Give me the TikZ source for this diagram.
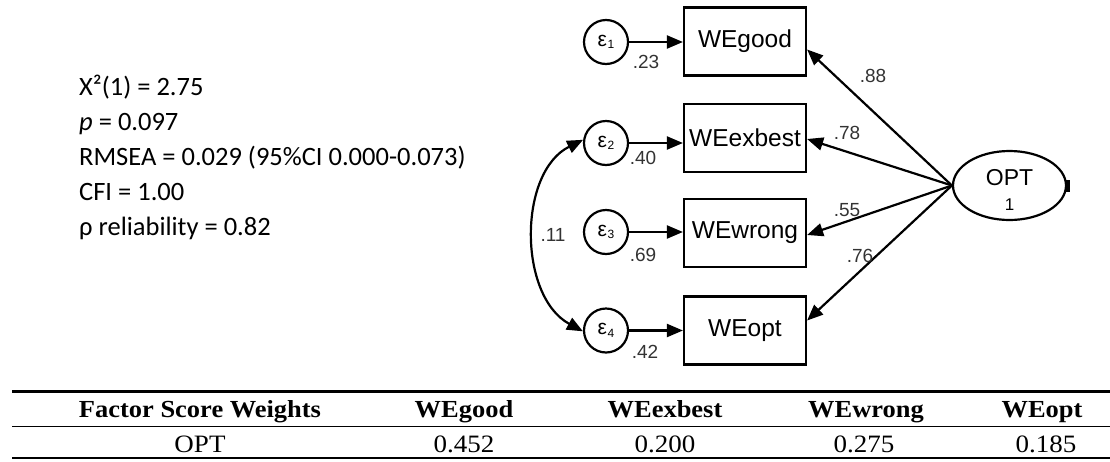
\documentclass[tikz,border=0pt]{standalone}
\usepackage{fontspec}
\setmainfont{Liberation Sans}
\newfontfamily\statfont{Carlito}
\newfontfamily\tabfont[FakeStretch=1.08]{Liberation Serif}
\usetikzlibrary{arrows.meta,shapes.geometric}

\newcommand{\epsub}[1]{ε\kern0.5pt\raisebox{-2.5pt}{\fontsize{12}{12}\selectfont #1}}

\begin{document}
\begin{tikzpicture}[x=1pt,y=-1pt,
  obs/.style={draw, line width=2.2pt, minimum width=122pt, minimum height=68pt,
              inner sep=0, font=\fontsize{24.5}{28}\selectfont},
  err/.style={circle, draw, line width=2.2pt, minimum size=44pt, inner sep=0,
              font=\fontsize{21}{22}\selectfont},
  lat/.style={ellipse, draw, line width=2.2pt, minimum width=113pt,
              minimum height=69pt, inner sep=0},
  link/.style={line width=2.2pt, -{Triangle[length=16pt,width=13pt]}},
  cov/.style={line width=2.2pt, {Triangle[length=16pt,width=13pt]}-{Triangle[length=16pt,width=13pt]}},
  coef/.style={font=\fontsize{19}{20}\selectfont, text=black!80, inner sep=0},
  stat/.style={font=\statfont\fontsize{26.5}{30}\selectfont, anchor=base west, inner sep=0},
  th/.style={font=\tabfont\bfseries\fontsize{24.5}{28}\selectfont, anchor=base, inner sep=0},
  td/.style={font=\tabfont\fontsize{25}{28}\selectfont, anchor=base, inner sep=0},
]
\useasboundingbox (0,0) rectangle (1110,461);

% fit statistics
\node[stat] (s1) at (79,95)  {X²(1) = 2.75};
\node[stat] (s2) at (79,130) {\itshape p\upshape{} = 0.097};
\node[stat] (s3) at (79,165) {RMSEA = 0.029 (95\%CI 0.000-0.073)};
\node[stat] (s4) at (79,200) {CFI = 1.00};
\node[stat] (s5) at (79,235) {ρ reliability = 0.82};

% indicators
\node[obs] (good)   at (745,41.5) {WEgood};
\node[obs] (exbest) at (745,138)  {WEexbest};
\node[obs] (wrong)  at (745,233)  {WEwrong};
\node[obs] (opt)    at (745,330.5){WEopt};

% error terms
\node[err] (e1) at (606,42)  {\epsub{1}};
\node[err] (e2) at (606,143) {\epsub{2}};
\node[err] (e3) at (606,232) {\epsub{3}};
\node[err] (e4) at (606,330.5) {\epsub{4}};

% latent factor with its name and variance constraint
\node[lat] (OPT) at (1009.5,185.5) {};
\node[font=\fontsize{23}{25}\selectfont, inner sep=0] (optname) at (1009.5,178) {OPT};
\node[font=\fontsize{17}{18}\selectfont, inner sep=0] (optvar) at (1009.5,205) {1};
\fill (OPT.east) ++(-1,-6) rectangle ++(3.5,12);

% error paths
\draw[link] (e1) -- (good.west |- e1);
\draw[link] (e2.east) -- (exbest.west |- e2.east);
\draw[link] (e3) -- (wrong.west |- e3);
\draw[link] (e4) -- (opt.west |- e4);
\node[coef] (c1) at (646,62)  {.23};
\node[coef] (c2) at (643,158) {.40};
\node[coef] (c3) at (643,255) {.69};
\node[coef] (c4) at (645,352) {.42};

% residual covariance
\draw[cov] (e2.172) .. controls (518,172) and (518,296) .. (e4.182);
\node[coef] (c11) at (553,235) {.11};

% factor loadings
\draw[link] (OPT.west) -- ([yshift=-8pt]good.east);
\draw[link] (OPT.west) -- ([yshift=-1pt]exbest.east);
\draw[link] (OPT.west) -- ([yshift=-2pt]wrong.east);
\draw[link] (OPT.west) -- ([yshift=10pt]opt.east);
\node[coef] (l1) at (873,76)  {.88};
\node[coef] (l2) at (847,133) {.78};
\node[coef] (l3) at (847,210) {.55};
\node[coef] (l4) at (860,256) {.76};

% factor score weights table
\draw[line width=3pt]   (12,391.5) -- (1110,391.5);
\draw[line width=1.5pt] (12,426.5) -- (1110,426.5);
\draw[line width=2.5pt] (12,458)   -- (1110,458);
\node[th] (h0) at (200,417)  {Factor Score Weights};
\node[th] (h1) at (464,417)  {WEgood};
\node[th] (h2) at (665,417)  {WEexbest};
\node[th] (h3) at (866,417)  {WEwrong};
\node[th] (h4) at (1042,417) {WEopt};
\node[td] (r0) at (200,452)  {OPT};
\node[td] (r1) at (464,452)  {0.452};
\node[td] (r2) at (665,452)  {0.200};
\node[td] (r3) at (864,452)  {0.275};
\node[td] (r4) at (1046,452) {0.185};
\end{tikzpicture}
\end{document}
